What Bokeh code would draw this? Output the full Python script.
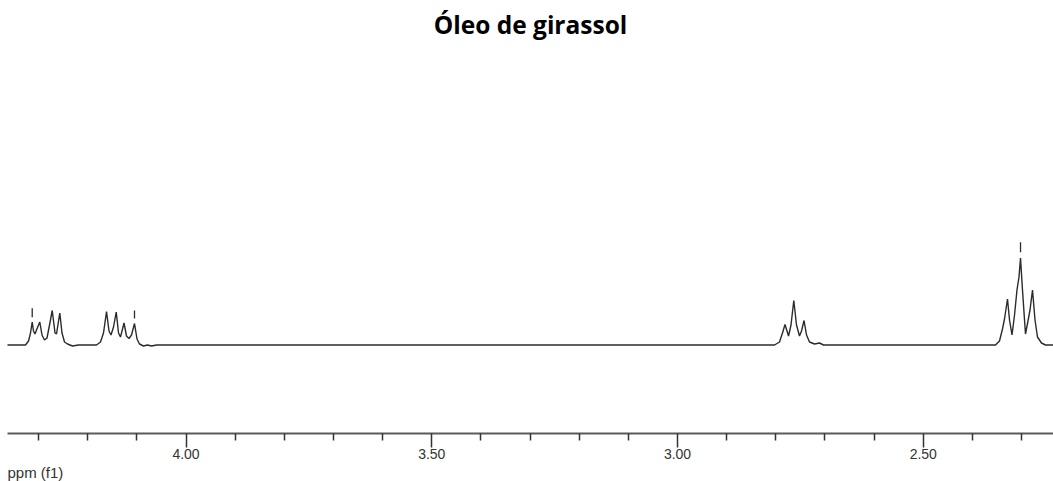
from bokeh.plotting import figure
from bokeh.models import Range1d, FixedTicker, Label, PrintfTickFormatter, Title
from bokeh.embed import file_html
from bokeh.resources import INLINE

title_text = "Óleo de girassol"
axis_title = "ppm (f1)"
major_ticks = [4.00, 3.50, 3.00, 2.50]
minor_ticks = [4.3, 4.2, 4.1, 3.9, 3.8, 3.7, 3.6, 3.4, 3.3, 3.2, 3.1,
               2.9, 2.8, 2.7, 2.6, 2.4, 2.3]

# traced spectrum (chemical shift in ppm, relative intensity)
shift_ppm = [
    4.37, 4.3266, 4.3204, 4.3164, 4.3129, 4.3103, 4.3072, 4.3042, 4.2975, 4.2930, 4.2879,
    4.2828, 4.2777, 4.2722, 4.2665, 4.2635, 4.2568, 4.2523, 4.2472, 4.2411, 4.2309, 4.2187,
    4.1821, 4.1740, 4.1679, 4.1617, 4.1567, 4.1526, 4.1475, 4.1420, 4.1373, 4.1333, 4.1261,
    4.1211, 4.1160, 4.1109, 4.1048, 4.0997, 4.0946, 4.0865, 4.0783, 4.0702, 4.0600,
    2.8026, 2.7925, 2.7864, 2.7813, 2.7741, 2.7691, 2.7634, 2.7579, 2.7518, 2.7477, 2.7426,
    2.7375, 2.7314, 2.7212, 2.7111, 2.7029,
    2.3530, 2.3449, 2.3388, 2.3347, 2.3286, 2.3245, 2.3194, 2.3143, 2.3093, 2.3052, 2.3021,
    2.2981, 2.2920, 2.2869, 2.2828, 2.2777, 2.2726, 2.2676, 2.2594, 2.2513, 2.22,
]
intensity = [
    0, 0, 4, 12, 23, 14, 11, 15, 23, 10, 5,
    7, 20, 34.5, 12, 11, 32, 12, 3, 1, -1, 0,
    0, 3, 12, 33.5, 14, 10, 18, 33, 12, 8, 22,
    9, 6.5, 10, 21.5, 6, 1, -1, 0, -1, 0,
    0, 3, 12, 20.5, 9, 20, 44.5, 20, 9, 14, 24.5,
    10, 3, 1, 2, 0,
    0, 4, 16, 26, 46, 25, 10, 30, 55, 68, 87,
    55, 11, 24, 35, 55, 25, 8, 2, 0, 0,
]

# peak-picking markers
marker_ppm = [4.3129, 4.1048, 2.3021]
marker_low = [27.8, 26.5, 92.8]
marker_high = [36.8, 34.5, 102.8]

x_start, x_end = 4.3632, 2.2350
y_start, y_end = -88.5, 344.5

p = figure(width=1053, height=481,
           x_range=Range1d(x_start, x_end), y_range=Range1d(y_start, y_end),
           output_backend="svg", toolbar_location=None, y_axis_location=None,
           min_border_left=7, min_border_right=0, min_border_top=0,
           min_border_bottom=48, outline_line_color=None,
           background_fill_color="white", border_fill_color="white")
p.grid.visible = False

p.line(shift_ppm, intensity, line_color="#2b2b2b", line_width=1.4)
p.segment(x0=marker_ppm, y0=marker_low, x1=marker_ppm, y1=marker_high,
          line_color="#2b2b2b", line_width=1.3)

ax = p.xaxis[0]
ax.ticker = FixedTicker(ticks=major_ticks, minor_ticks=minor_ticks)
ax.formatter = PrintfTickFormatter(format="%.2f")
ax.axis_line_color = "#5a5a5a"
ax.axis_line_width = 2
ax.major_tick_in = 0
ax.major_tick_out = 14
ax.minor_tick_in = 0
ax.minor_tick_out = 7
ax.major_tick_line_color = "#333333"
ax.major_tick_line_width = 1.5
ax.minor_tick_line_color = "#333333"
ax.minor_tick_line_width = 1.5
ax.major_label_standoff = 1
ax.major_label_text_font = "Liberation Sans"
ax.major_label_text_font_size = "14px"
ax.major_label_text_color = "#333333"

p.add_layout(Title(text=axis_title, align="left", text_font="Liberation Sans",
                   text_font_size="15px", text_font_style="normal",
                   text_color="#333333", standoff=0, offset=0), "below")

p.add_layout(Label(x=3.2991, y=320.5, text=title_text, text_align="center",
                   text_baseline="middle", text_font="Open Sans",
                   text_font_style="bold", text_font_size="24.5px",
                   text_color="black"))

open("out.html", "w").write(file_html(p, INLINE))
